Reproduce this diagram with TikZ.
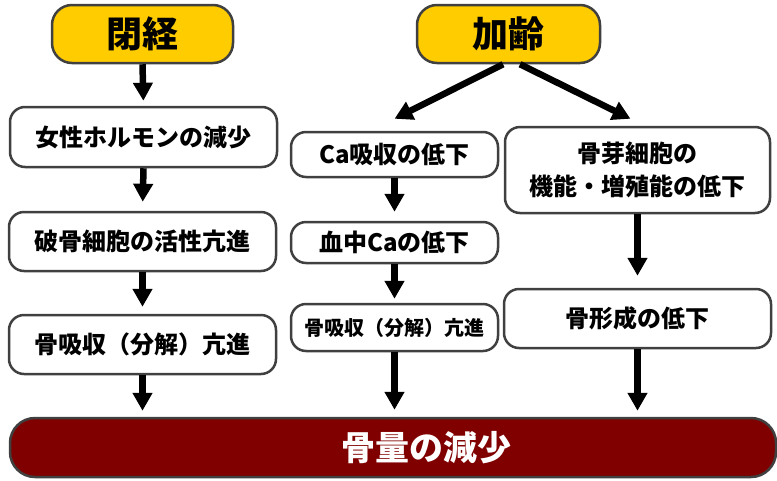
\documentclass[tikz,border=0pt]{standalone}
\usepackage{fontspec}
\setmainfont{Noto Sans CJK JP}
\usetikzlibrary{arrows.meta}
\definecolor{bordergray}{HTML}{404040}
\definecolor{topyellow}{HTML}{FFCC00}
\definecolor{bardark}{HTML}{800000}
\tikzset{
  box/.style={draw=bordergray, line width=2.5pt, rounded corners=15pt, fill=white,
    inner sep=0pt, align=center, font=\bfseries\fontsize{24}{33}\selectfont},
  topbox/.style={box, fill=topyellow, rounded corners=20pt, font=\bfseries\fontsize{36}{40}\selectfont},
  barbox/.style={draw=bordergray, line width=2.5pt, rounded corners=25pt, fill=bardark, inner sep=0pt},
  bartext/.style={text=white, font=\bfseries\fontsize{34}{40}\selectfont},
  arr/.style={line width=6.5pt, -{Triangle[width=19pt,length=18pt]}},
}
\begin{document}
\begin{tikzpicture}[x=1pt,y=-1pt]
\useasboundingbox (0,0) rectangle (777,480);
% top boxes
\node[topbox, minimum width=181pt, minimum height=58pt] (meno) at (142.5,34) {閉経};
\node[topbox, minimum width=183pt, minimum height=58pt] (age) at (508.5,34) {加齢};
% left column
\node[box, minimum width=267pt, minimum height=60pt] (f1) at (143.5,137) {女性ホルモンの減少};
\node[box, minimum width=267pt, minimum height=59pt] (f2) at (142.5,241.5) {破骨細胞の活性亢進};
\node[box, minimum width=267pt, minimum height=59pt] (f3) at (142.5,344.5) {骨吸収（分解）亢進};
% middle column
\node[box, minimum width=207pt, minimum height=45pt] (c1) at (394.5,154.5) {Ca吸収の低下};
\node[box, minimum width=207pt, minimum height=41pt] (c2) at (394.5,242.5) {血中Caの低下};
\node[box, minimum width=207pt, minimum height=47pt, font=\bfseries\fontsize{20}{24}\selectfont] (c3) at (394.5,327.5) {骨吸収（分解）亢進};
% right column
\node[box, minimum width=265pt, minimum height=86pt] (o1) at (637.5,170) {骨芽細胞の\\機能・増殖能の低下};
\node[box, minimum width=267pt, minimum height=59pt] (o2) at (637.5,318.5) {骨形成の低下};
% bottom bar
\node[barbox, minimum width=766pt, minimum height=59pt] (bar) at (393,447.5) {};
\node[bartext] (bart) at (426,447.5) {骨量の減少};
% arrows left
\draw[arr, shorten >=5pt] (meno.south) -- (f1.north);
\draw[arr, shorten >=9pt] (f1.south) -- (f2.north);
\draw[arr, shorten >=7pt] (f2.south) -- (f3.north);
\draw[arr, shorten >=6pt] (f3.south) -- (f3.south |- bar.north);
% arrows from age
\draw[arr] ([xshift=-5.5pt]age.south) -- ([yshift=12pt]c1.north);
\draw[arr] ([xshift=11.5pt]age.south) -- ([xshift=-7pt,yshift=7pt]o1.north);
% middle arrows
\draw[arr, shorten >=9pt] (c1.south) -- (c2.north);
\draw[arr, shorten >=4pt] (c2.south) -- (c3.north);
\draw[arr, shorten >=7pt] (c3.south) -- (c3.south |- bar.north);
% right arrows
\draw[arr, shorten >=12pt] (o1.south) -- (o2.north);
\draw[arr, shorten >=6pt] (o2.south) -- (o2.south |- bar.north);
\end{tikzpicture}
\end{document}
